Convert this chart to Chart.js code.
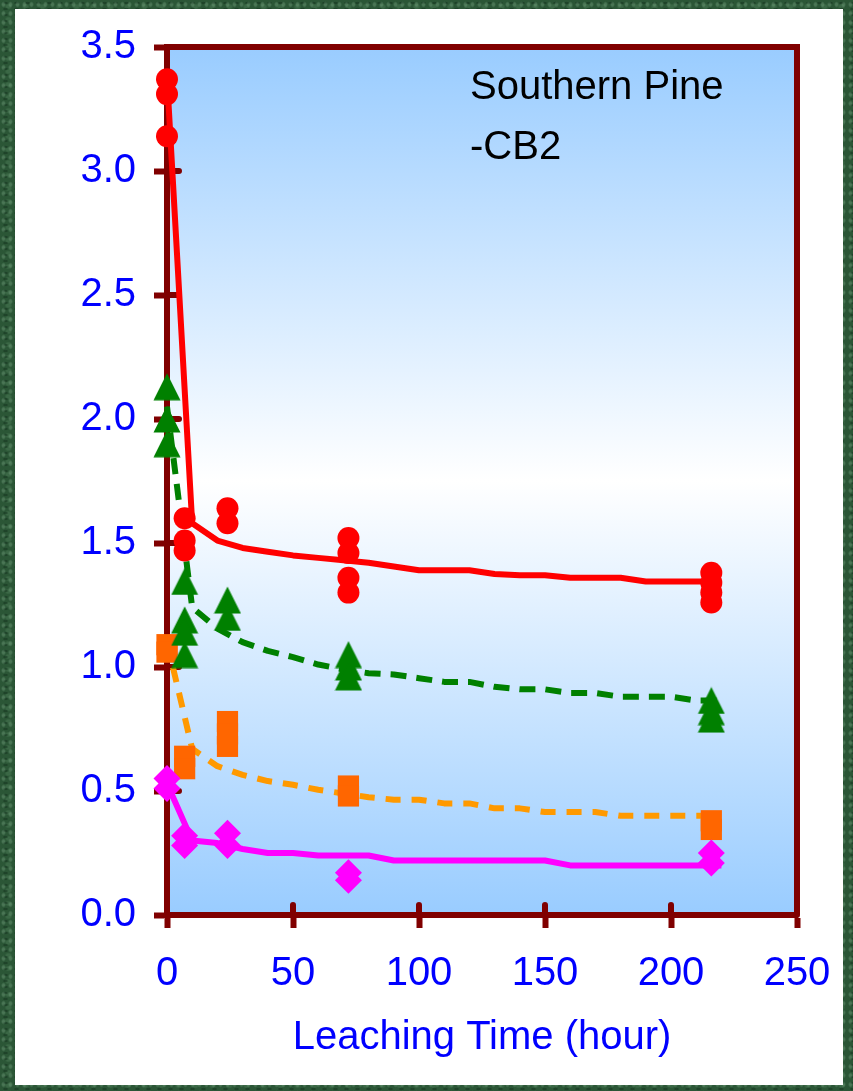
<!DOCTYPE html>
<html>
<head>
<meta charset="utf-8">
<script src="https://cdn.jsdelivr.net/npm/chart.js@4.4.1/dist/chart.umd.min.js"></script>
<style>
  html, body { margin:0; padding:0; }
  body {
    width:853px; height:1091px; position:relative; overflow:hidden;
    background-color:#2b5636;
    background-image:
      radial-gradient(rgba(130,175,140,0.35) 1px, transparent 2.5px),
      radial-gradient(rgba(15,45,25,0.45) 1.5px, transparent 3px),
      radial-gradient(rgba(95,145,105,0.3) 2px, transparent 4px);
    background-size: 7px 9px, 11px 6px, 17px 13px;
  }
  #panel { position:absolute; left:15px; top:9px; width:828px; height:1076px; background:#ffffff; }
  #chart { position:absolute; left:0; top:0; }
  #label { position:absolute; left:470px; top:55px; font-family:'Liberation Sans', Arial, sans-serif;
           font-size:40px; line-height:60px; color:#000; white-space:nowrap; }
</style>
</head>
<body>
<div id="panel"></div>
<canvas id="chart" width="853" height="1091"></canvas>
<div id="label">Southern Pine<br>-CB2</div>
<script>
// ---- data ----
const xTitle = 'Leaching Time (hour)';
const xTicks = [0, 50, 100, 150, 200, 250];
const yTicks = [0.0, 0.5, 1.0, 1.5, 2.0, 2.5, 3.0, 3.5];

// measured points (red circles)
const redTimes  = [0, 0, 0, 7, 7, 7, 24, 24, 72, 72, 72, 72, 216, 216, 216, 216];
const redValues = [3.37, 3.31, 3.14, 1.60, 1.51, 1.47, 1.64, 1.58, 1.52, 1.46, 1.36, 1.30, 1.38, 1.34, 1.30, 1.26];
// green triangles
const greenTimes  = [0, 0, 0, 7, 7, 7, 7, 24, 24, 72, 72, 72, 216, 216, 216];
const greenValues = [2.13, 2.00, 1.90, 1.345, 1.19, 1.14, 1.05, 1.27, 1.20, 1.05, 1.00, 0.96, 0.865, 0.82, 0.79];
// orange squares
const orangeTimes  = [0, 0, 7, 7, 24, 24, 24, 72, 72, 216, 216];
const orangeValues = [1.09, 1.06, 0.64, 0.59, 0.78, 0.73, 0.68, 0.52, 0.48, 0.38, 0.345];
// magenta diamonds
const magentaTimes  = [0, 0, 7, 7, 24, 24, 72, 72, 216, 216];
const magentaValues = [0.55, 0.51, 0.32, 0.28, 0.33, 0.28, 0.17, 0.14, 0.25, 0.21];

// fitted curves
const fitTimes = [0, 10, 20, 30, 40, 50, 60, 70, 80, 90, 100, 110, 120, 130, 140, 150, 160, 170, 180, 190, 200, 210, 220];
const redFit     = [3.38, 1.58, 1.51, 1.48, 1.465, 1.45, 1.44, 1.43, 1.42, 1.405, 1.39, 1.39, 1.39, 1.375, 1.37, 1.37, 1.36, 1.36, 1.36, 1.345, 1.345, 1.345, 1.345];
const greenFit   = [2.05, 1.24, 1.155, 1.10, 1.065, 1.04, 1.01, 0.99, 0.975, 0.97, 0.955, 0.94, 0.94, 0.92, 0.91, 0.91, 0.895, 0.895, 0.88, 0.88, 0.88, 0.865, 0.865];
const orangeFit  = [1.10, 0.67, 0.60, 0.565, 0.54, 0.525, 0.505, 0.49, 0.475, 0.465, 0.465, 0.45, 0.45, 0.43, 0.43, 0.415, 0.415, 0.415, 0.40, 0.40, 0.40, 0.40, 0.40];
const magentaFit = [0.53, 0.30, 0.29, 0.266, 0.25, 0.25, 0.24, 0.24, 0.24, 0.22, 0.22, 0.22, 0.22, 0.22, 0.22, 0.22, 0.20, 0.20, 0.20, 0.20, 0.20, 0.20, 0.20];

// ---- helpers ----
const FONT = "'Liberation Sans', Arial, sans-serif";
const AXIS = '#800000';
function pts(xs, ys) { return xs.map((x, i) => ({ x: x, y: ys[i] })); }
function triangleImage(size, color) {
  const c = document.createElement('canvas');
  c.width = size; c.height = size;
  const g = c.getContext('2d');
  g.fillStyle = color;
  g.beginPath();
  g.moveTo(size / 2, 0.5);
  g.lineTo(size - 0.5, size - 0.5);
  g.lineTo(0.5, size - 0.5);
  g.closePath();
  g.fill();
  return c;
}
const tri = triangleImage(28, '#008000');

function markers(data, color, style, radius) {
  return { data: data, showLine: false, pointStyle: style, pointRadius: radius, pointHoverRadius: radius,
           backgroundColor: color, borderColor: color, pointBorderWidth: 0, borderWidth: 0, clip: false };
}
function curve(data, color, dash) {
  return { data: data, showLine: true, pointRadius: 0, pointHoverRadius: 0, borderColor: color,
           backgroundColor: color, borderWidth: 6, borderDash: dash, tension: 0, clip: false,
           borderCapStyle: 'butt', borderJoinStyle: 'round' };
}

const plotBackground = {
  id: 'plotBackground',
  beforeDraw(chart) {
    const { ctx, chartArea: a } = chart;
    const g = ctx.createLinearGradient(0, a.top, 0, a.bottom);
    g.addColorStop(0, '#99ccff');
    g.addColorStop(0.5, '#ffffff');
    g.addColorStop(1, '#99ccff');
    ctx.save();
    ctx.fillStyle = g;
    ctx.fillRect(a.left, a.top, a.right - a.left, a.bottom - a.top);
    ctx.restore();
  }
};
const frame = {
  id: 'frame',
  beforeDatasetsDraw(chart) {
    const { ctx, chartArea: a, scales } = chart;
    ctx.save();
    ctx.strokeStyle = AXIS;
    ctx.lineWidth = 6;
    ctx.lineCap = 'butt';
    ctx.beginPath();
    ctx.moveTo(a.left - 3, a.top); ctx.lineTo(a.right + 3, a.top);
    ctx.moveTo(a.right, a.top); ctx.lineTo(a.right, a.bottom);
    ctx.stroke();
    // inner halves of the crossing tick marks
    ctx.lineCap = 'round';
    ctx.beginPath();
    scales.x.ticks.forEach(t => {
      const px = scales.x.getPixelForValue(t.value);
      ctx.moveTo(px, a.bottom); ctx.lineTo(px, a.bottom - 10);
    });
    scales.y.ticks.forEach(t => {
      const py = scales.y.getPixelForValue(t.value);
      ctx.moveTo(a.left, py); ctx.lineTo(a.left + 12, py);
    });
    ctx.stroke();
    ctx.restore();
  }
};

new Chart(document.getElementById('chart'), {
  type: 'scatter',
  data: {
    datasets: [
      markers(pts(redTimes, redValues), '#ff0000', 'circle', 11),
      markers(pts(greenTimes, greenValues), '#008000', tri, 14),
      markers(pts(magentaTimes, magentaValues), '#ff00ff', 'rectRot', 13.5),
      markers(pts(orangeTimes, orangeValues), '#ff6600', 'rect', 15),
      curve(pts(fitTimes, redFit), '#ff0000', []),
      curve(pts(fitTimes, greenFit), '#008000', [16, 10]),
      curve(pts(fitTimes, orangeFit), '#ff9900', [15, 11]),
      curve(pts(fitTimes, magentaFit), '#ff00ff', [])
    ]
  },
  options: {
    responsive: false,
    animation: false,
    events: [],
    layout: { padding: { left: 0, right: 56, top: 47, bottom: 29 } },
    plugins: { legend: { display: false }, tooltip: { enabled: false } },
    scales: {
      x: {
        type: 'linear', min: 0, max: 250,
        afterBuildTicks(s) { s.ticks = xTicks.map(v => ({ value: v })); },
        afterFit(s) { s.height = 147; },
        ticks: { color: '#0000ff', font: { family: FONT, size: 40 }, padding: 22, maxRotation: 0,
                 callback: v => String(v) },
        grid: { drawOnChartArea: false, drawTicks: true, tickLength: 13, tickWidth: 6, tickColor: AXIS },
        border: { color: AXIS, width: 6 },
        title: { display: true, text: xTitle, color: '#0000ff', font: { family: FONT, size: 40 }, padding: 0 }
      },
      y: {
        type: 'linear', min: 0, max: 3.5,
        afterBuildTicks(s) { s.ticks = yTicks.map(v => ({ value: v })); },
        afterFit(s) { s.width = 167; },
        ticks: { color: '#0000ff', font: { family: FONT, size: 40 }, padding: 18,
                 callback: v => Number(v).toFixed(1) },
        grid: { drawOnChartArea: false, drawTicks: true, tickLength: 13, tickWidth: 6, tickColor: AXIS },
        border: { color: AXIS, width: 6 }
      }
    }
  },
  plugins: [plotBackground, frame]
});
</script>
</body>
</html>
